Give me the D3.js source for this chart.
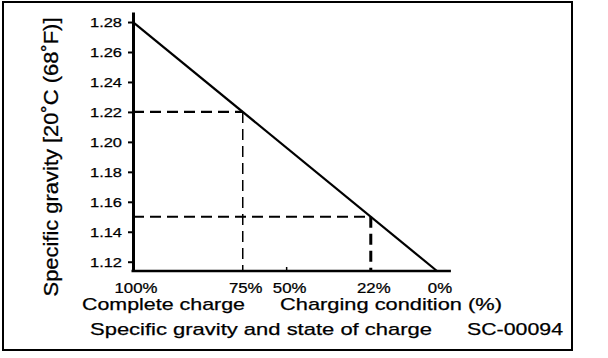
<!DOCTYPE html>
<html><head><meta charset="utf-8">
<script src="https://cdn.jsdelivr.net/npm/d3@7"></script>
<style>body{margin:0;background:#fff}svg{display:block}text{font-family:"Liberation Sans",Arial,sans-serif;fill:#000;stroke:#000;stroke-width:0.25}</style>
</head><body><svg id="c" width="608" height="358"></svg>
<script>
// Data
const yTicks = [1.12, 1.14, 1.16, 1.18, 1.20, 1.22, 1.24, 1.26, 1.28];
const chargeLabels = ["100%", "75%", "50%", "22%", "0%"];
const chargeSG = [1.28, 1.22, 1.196, 1.15, 1.1138]; // specific gravity at each charge level
const markedLabels = ["75%", "22%"];               // levels with dashed guide lines
const lineLabels = ["100%", "0%"];                 // ends of the straight line

const svg = d3.select("#c");

// scales
const y = d3.scaleLinear().domain([1.1138, 1.2867]).range([271, 12]);
const x = d3.scaleLinear().domain([1.28, 1.1138]).range([133, 437]);
const sgOf = l => chargeSG[chargeLabels.indexOf(l)];

// frame
svg.append("rect").attr("x", 3).attr("y", 2).attr("width", 569).attr("height", 348)
  .attr("fill", "none").attr("stroke", "#000").attr("stroke-width", 2);

// dashed guides
markedLabels.forEach((l, i) => {
  const sg = sgOf(l);
  svg.append("line").attr("x1", x(1.28)).attr("x2", x(sg)).attr("y1", y(sg)).attr("y2", y(sg))
    .attr("stroke", "#000").attr("stroke-width", 2.2).attr("stroke-dasharray", "11,6");
  svg.append("line").attr("x1", x(sg)).attr("x2", x(sg)).attr("y1", y(sg)).attr("y2", y(y.domain()[0]))
    .attr("stroke", "#000").attr("stroke-width", i === 0 ? 1.5 : 3).attr("stroke-dasharray", "11,6");
});

// main line
svg.append("line")
  .attr("x1", x(sgOf(lineLabels[0]))).attr("y1", y(sgOf(lineLabels[0])))
  .attr("x2", x(sgOf(lineLabels[1]))).attr("y2", y(sgOf(lineLabels[1])))
  .attr("stroke", "#000").attr("stroke-width", 2.2);

// y axis
const yAxis = d3.axisLeft(y).tickValues(yTicks).tickSize(5).tickSizeOuter(0).tickPadding(6)
  .tickFormat(d3.format(".2f"));
const gy = svg.append("g").attr("transform", "translate(133,0)").call(yAxis);
gy.select(".domain").attr("stroke", "#000").attr("stroke-width", 3);
gy.selectAll(".tick line").attr("stroke", "#000").attr("stroke-width", 2);
gy.selectAll(".tick text").attr("font-size", 13.5).attr("textLength", 32).attr("lengthAdjust", "spacingAndGlyphs")
  .attr("font-family", "Liberation Sans, Arial, sans-serif").attr("fill", "#000");

// x axis
const xAxisLine = [1.28, 1.1062];
svg.append("line").attr("x1", x(xAxisLine[0]) - 1.5).attr("x2", x(xAxisLine[1]))
  .attr("y1", y(y.domain()[0])).attr("y2", y(y.domain()[0]))
  .attr("stroke", "#000").attr("stroke-width", 2.5);
// small tick at 50%
svg.append("line").attr("x1", x(sgOf("50%"))).attr("x2", x(sgOf("50%")))
  .attr("y1", y(y.domain()[0]) - 4).attr("y2", y(y.domain()[0]))
  .attr("stroke", "#000").attr("stroke-width", 1.5);

// x labels
svg.append("g").selectAll("text").data(chargeLabels).join("text")
  .attr("x", d => x(sgOf(d)) + 3).attr("y", 293)
  .attr("text-anchor", "middle").attr("font-size", 14)
  .attr("transform", d => `translate(${x(sgOf(d)) + 3},0) scale(1.2,1) translate(${-(x(sgOf(d)) + 3)},0)`)
  .text(d => d);

// texts
function txt(s, x0, yb, size, len) {
  svg.append("text").attr("x", x0).attr("y", yb).attr("font-size", size)
    .attr("textLength", len).attr("lengthAdjust", "spacingAndGlyphs").text(s);
}
txt("Complete charge", 82, 310, 17, 163);
txt("Charging condition (%)", 280, 310, 17, 222);
txt("Specific gravity and state of charge", 90, 335, 17, 342);
txt("SC-00094", 467, 335, 17, 96);

// y title
svg.append("text").attr("transform", "translate(58,157) scale(1.2,1) rotate(-90)")
  .attr("text-anchor", "middle").attr("font-size", 17.5)
  .attr("textLength", 279).attr("lengthAdjust", "spacingAndGlyphs")
  .text("Specific gravity [20˚C (68˚F)]");
</script></body></html>
